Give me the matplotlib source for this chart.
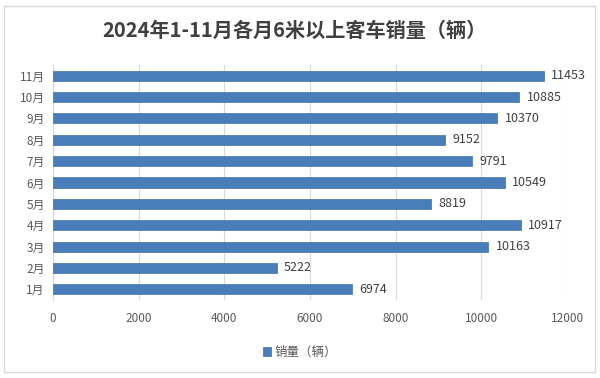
import matplotlib
matplotlib.use("Agg")
import matplotlib.pyplot as plt
from matplotlib.patches import Rectangle

plt.rcParams['font.family'] = ['Noto Sans CJK SC', 'DejaVu Sans']

# data
months = ["1月", "2月", "3月", "4月", "5月", "6月", "7月", "8月", "9月", "10月", "11月"]
sales = [6974, 5222, 10163, 10917, 8819, 10549, 9791, 9152, 10370, 10885, 11453]
x_ticks = [0, 2000, 4000, 6000, 8000, 10000, 12000]

bar_color = "#4a7ebb"
text_color = "#595959"

fig = plt.figure(figsize=(6, 3.78), dpi=100)
ax = fig.add_axes([53 / 600, 1 - 300 / 378, (567 - 53) / 600, (300 - 65) / 378])

# outer frame
fig.patches.append(Rectangle((4 / 600, 1 - 372 / 378), 591 / 600, 366 / 378,
                             transform=fig.transFigure, fill=False,
                             edgecolor="#d9d9d9", linewidth=1))

bars = ax.barh(range(len(months)), sales, height=0.47, color=bar_color,
               edgecolor="#41719c", linewidth=0.5, label="销量（辆）", zorder=3)

for i, v in enumerate(sales):
    ax.text(v + 170, i, str(v), va="center", ha="left", fontsize=9,
            color="#404040")

ax.set_xlim(0, 12000)
ax.set_ylim(-0.5, len(months) - 0.5)
ax.set_xticks(x_ticks)
ax.set_xticklabels([str(t) for t in x_ticks])
ax.set_yticks(range(len(months)))
ax.set_yticklabels(months)
ax.tick_params(axis="both", length=0, labelsize=8.5, labelcolor=text_color)
ax.tick_params(axis="x", pad=9)
ax.tick_params(axis="y", pad=6)
ax.grid(axis="x", color="#d9d9d9", linewidth=0.8, zorder=0)
for s in ["top", "right", "bottom"]:
    ax.spines[s].set_visible(False)
ax.spines["left"].set_color("#d9d9d9")

fig.text(0.49, 1 - 30 / 378, "2024年1-11月各月6米以上客车销量（辆）",
         ha="center", va="center", fontsize=14.5, fontweight="bold",
         color="#404040")

fig.legend(handles=[bars], loc="center", bbox_to_anchor=(0.5, 1 - 352 / 378),
           frameon=False, fontsize=9, handlelength=0.7, handleheight=0.7,
           handletextpad=0.3, labelcolor=text_color)

fig.savefig("out.png", dpi=100)
